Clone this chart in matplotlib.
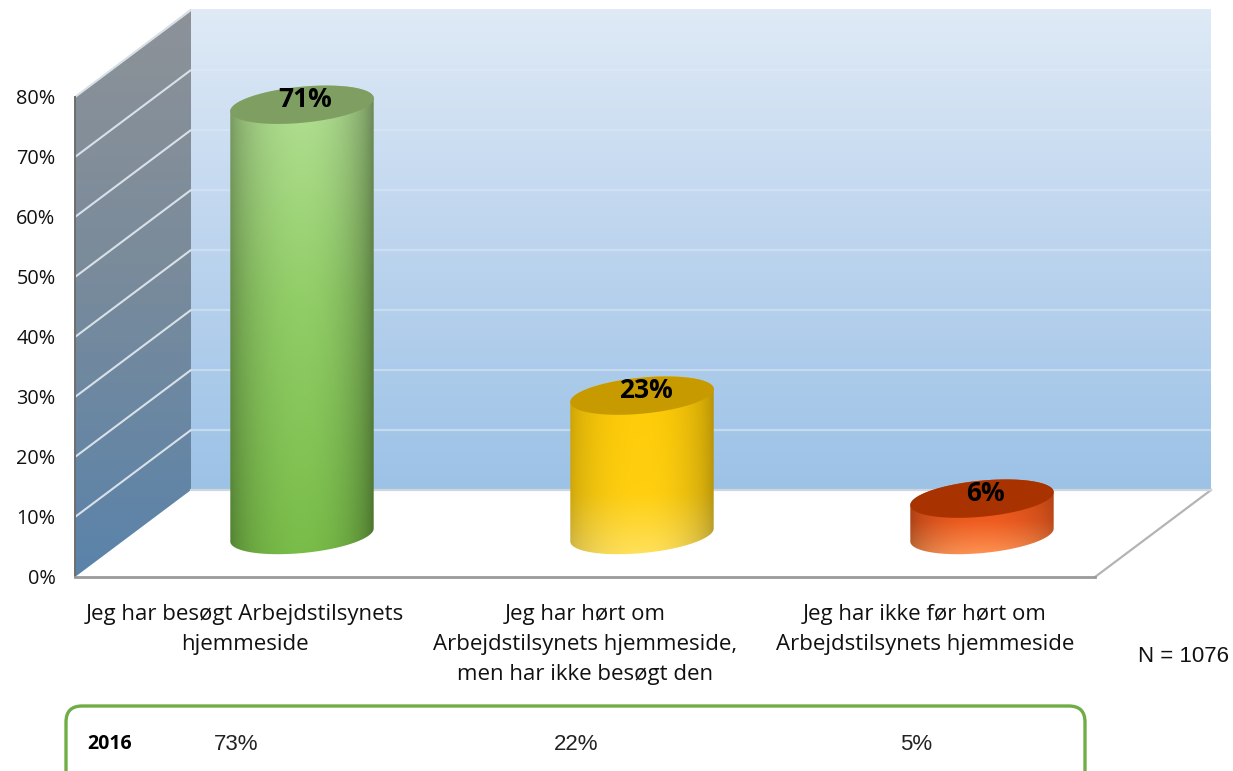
import numpy as np
import matplotlib
matplotlib.use("Agg")
import matplotlib.pyplot as plt
from matplotlib.patches import Polygon, FancyBboxPatch
from matplotlib.transforms import Affine2D

# ---------- data ----------
categories = ["Jeg har besøgt Arbejdstilsynets\nhjemmeside",
              "Jeg har hørt om\nArbejdstilsynets hjemmeside,\nmen har ikke besøgt den",
              "Jeg har ikke før hørt om\nArbejdstilsynets hjemmeside"]
values_2017 = [71, 23, 6]
values_2016 = [73, 22, 5]
value_labels = ["71%", "23%", "6%"]
label_2016 = ["73%", "22%", "5%"]
y_ticks = [0, 10, 20, 30, 40, 50, 60, 70, 80]

# ---------- layout (pixels) ----------
W, H = 1233, 771
PX_CAT, PX_PCT = 340.0, 6.0      # pixels per category / per percent
X0, Y0 = 245.0, 577.0            # pixel position of category 0, value 0
DX, DY = 116 / PX_CAT, 87 / PX_PCT      # chart depth in data units
BDX, BDY = 57 / PX_CAT, 42 / PX_PCT     # bars stand mid-depth
BAR_SCALE = 1.01                 # slight perspective growth of bars

fig = plt.figure(figsize=(W / 100, H / 100), dpi=100, facecolor="white")
ax = fig.add_axes([0, 0, 1, 1])
ax.set_xlim((0 - X0) / PX_CAT, (W - X0) / PX_CAT)
ax.set_ylim((Y0 - H) / PX_PCT, Y0 / PX_PCT)
ax.patch.set_visible(False)
px_tr = Affine2D().scale(1, -1).translate(0, H)

LEFT, RIGHT = -0.5, 2.5
TOP = y_ticks[-1]


def hex2rgb(c):
    return np.array(matplotlib.colors.to_rgb(c))


def vgrad(stops, n=300):
    pos = [s[0] for s in stops]
    cols = np.array([hex2rgb(s[1]) for s in stops])
    t = np.linspace(0, 1, n)
    return np.stack([np.interp(t, pos, cols[:, k]) for k in range(3)], axis=1)[:, None, :]


# back wall
back = ax.imshow(vgrad([(0, "#dfeaf6"), (0.5, "#bcd4ee"), (1, "#9cc2e6")]),
                 extent=(LEFT + DX, RIGHT + DX, DY, TOP + DY + 1 / PX_PCT), aspect="auto", zorder=1)
# left wall
wall_poly = Polygon([(LEFT, 0), (LEFT + DX, DY), (LEFT + DX, TOP + DY + 1 / PX_PCT), (LEFT, TOP)],
                    closed=True, fc="none", ec="none", zorder=2)
ax.add_patch(wall_poly)
wall = ax.imshow(vgrad([(0, "#8d9298"), (0.45, "#7a8b9b"), (1, "#5a83aa")]),
                 extent=(LEFT, LEFT + DX, 0, TOP + DY + 1 / PX_PCT), aspect="auto", zorder=2)
wall.set_clip_path(wall_poly)

# gridlines
for v in y_ticks[1:]:
    ax.plot([LEFT, LEFT + DX], [v, v + DY], color="#d8e0e8", lw=1.5, zorder=3, solid_capstyle="butt")
    ax.plot([LEFT + DX, RIGHT + DX], [v + DY, v + DY], color="white", lw=1.6,
            alpha=0.08 + 0.32 * (1 - v / TOP), zorder=3)

# floor edges
ax.plot([RIGHT, RIGHT + DX], [0, DY], color="#b4b4b4", lw=1.6, zorder=3)
ax.plot([LEFT + DX, RIGHT + DX], [DY, DY], color="#d0d6dc", lw=1.6, zorder=3)

# cylinders
theta = np.deg2rad(5.5)
A, B = 72.0, 18.0


def ell(cx, cy, t):
    ex = A * np.cos(t) * np.cos(theta) + B * np.sin(t) * np.sin(theta)
    ey = A * np.cos(t) * np.sin(theta) - B * np.sin(t) * np.cos(theta)
    return cx + ex / PX_CAT, cy + ey / PX_PCT


t_right = np.arctan2(B * np.sin(theta), A * np.cos(theta))
t_low = np.linspace(t_right - np.pi, t_right, 80)
t_up = np.linspace(t_right, t_right + np.pi, 80)

bar_styles = [
    dict(stops=[(0, "#b4e096"), (0.45, "#92ce68"), (1, "#78bc48")], top="#7f9f62", bl=0.62, br=0.50),
    dict(stops=[(0, "#ffcb05"), (0.65, "#ffcf10"), (1, "#ffe262")], top="#c79b00", bl=0.76, br=0.66),
    dict(stops=[(0, "#dc4c14"), (0.55, "#ef5c20"), (1, "#ff9c5c")], top="#a93300", bl=0.66, br=0.72),
]

for i, (v, st) in enumerate(zip(values_2017, bar_styles)):
    cx = i + BDX
    base, top = BDY, v * BAR_SCALE + BDY
    lowx, lowy = ell(cx, base, t_up)
    upx, upy = ell(cx, top, t_low)
    verts = np.concatenate([np.c_[lowx, lowy], np.c_[upx, upy]])
    body = Polygon(verts, closed=True, fc="none", ec="none", zorder=4)
    ax.add_patch(body)
    col = vgrad(st["stops"], 300)
    u = np.linspace(-1, 1, 240)
    falloff = np.clip(1 - u ** 2, 0, 1) ** 0.6
    shade = np.where(u < 0, st["bl"] + (1 - st["bl"]) * falloff, st["br"] + (1 - st["br"]) * falloff)
    img = col * shade[None, :, None]
    wpx = (A + 2) / PX_CAT
    im = ax.imshow(np.clip(img, 0, 1), extent=(cx - wpx, cx + wpx, base - 25 / PX_PCT, top + 25 / PX_PCT),
                   aspect="auto", zorder=4, interpolation="bilinear")
    im.set_clip_path(body)
    ex, ey = ell(cx, top, np.linspace(0, 2 * np.pi, 160))
    ax.add_patch(Polygon(np.c_[ex, ey], closed=True, fc=st["top"], ec="none", zorder=5))
    ax.text(cx + 3.5 / PX_CAT, top + 5.5 / PX_PCT, value_labels[i], ha="center", va="center",
            fontsize=19, fontweight="bold", family="Open Sans", color="black", zorder=6)

# axes: real spines and ticks placed on the front plane
for s in ("top", "right"):
    ax.spines[s].set_visible(False)
ax.spines["left"].set_position(("data", LEFT))
ax.spines["left"].set_bounds(0, TOP)
ax.spines["bottom"].set_position(("data", 0))
ax.spines["bottom"].set_bounds(LEFT, RIGHT)
ax.spines["left"].set_color("#6e6e6e")
ax.spines["left"].set_linewidth(1.4)
ax.spines["bottom"].set_color("#9a9a9a")
ax.spines["bottom"].set_linewidth(2.0)
ax.spines["left"].set_zorder(7)
ax.spines["bottom"].set_zorder(7)
ax.set_yticks(y_ticks)
ax.set_yticklabels([f"{v}%" for v in y_ticks], family="Open Sans", fontsize=14.3, color="#111111")
ax.set_xticks(range(len(categories)))
ax.set_xticklabels(categories, family="Open Sans", fontsize=16, color="#111111", linespacing=1.55)
ax.tick_params(axis="y", length=0, pad=14)
ax.tick_params(axis="x", length=0, pad=19.5)

# N note
ax.text(1138, 656, "N = 1076", transform=px_tr, family="Liberation Sans", fontsize=16,
        color="#111111", ha="left", va="center")

# 2016 box
ax.add_patch(FancyBboxPatch((66, 706), 1019, 110, boxstyle="round,pad=0,rounding_size=16",
                            transform=px_tr, fc="white", ec="#70ad47", lw=2.4, zorder=5))
ax.text(87, 744, "2016", transform=px_tr, family="Open Sans", fontweight="bold", fontsize=14,
        ha="left", va="center", color="black", zorder=6)
box_y = (Y0 - 744) / PX_PCT
for i, t in enumerate(label_2016):
    ax.text(i - 9 / PX_CAT, box_y, t, family="Liberation Sans", fontsize=16, ha="center", va="center",
            color="#222222", zorder=6)

ax.set_xlim((0 - X0) / PX_CAT, (W - X0) / PX_CAT)
ax.set_ylim((Y0 - H) / PX_PCT, Y0 / PX_PCT)
fig.savefig("out.png", dpi=100)
